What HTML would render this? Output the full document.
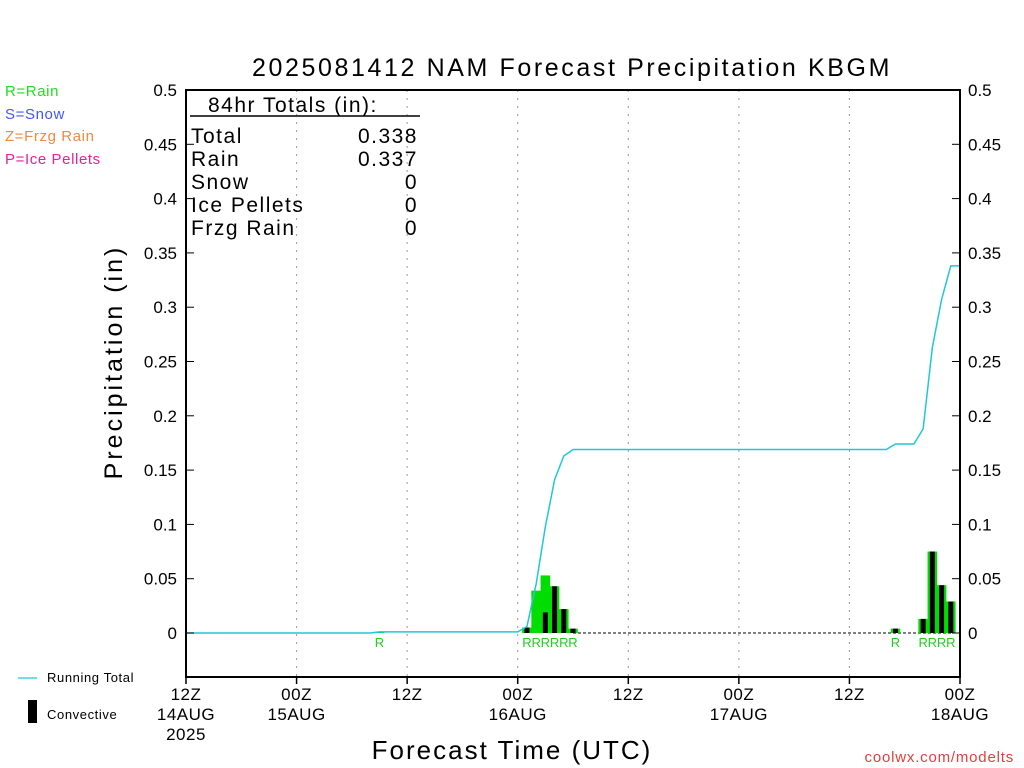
<!DOCTYPE html>
<html><head><meta charset="utf-8"><style>
body{margin:0;background:#fff}
svg{display:block;font-family:"Liberation Sans","DejaVu Sans",sans-serif}
</style></head><body>
<svg id="chart" width="1024" height="768" viewBox="0 0 1024 768">
<text x="572" y="76" font-size="25" letter-spacing="2.6" text-anchor="middle">2025081412 NAM Forecast Precipitation KBGM</text>
<g font-size="15" letter-spacing="0.6">
<text x="5" y="96" fill="#22dd22">R=Rain</text>
<text x="5" y="119" fill="#4455ff">S=Snow</text>
<text x="5" y="141" fill="#f08a40">Z=Frzg Rain</text>
<text x="5" y="164" fill="#e8209a">P=Ice Pellets</text>
</g>
<g id="grid"></g>
<g id="bars"></g>
<g id="line"></g>
<rect x="186" y="90" width="774" height="587" fill="none" stroke="#000" stroke-width="2"/>
<g id="axes"></g>
<g font-size="21" letter-spacing="1.5">
<text x="208" y="112">84hr Totals (in):</text>
<line x1="190" y1="116" x2="420" y2="116" stroke="#000" stroke-width="1.5"/>
<text x="191" y="143">Total</text><text x="418" y="143" text-anchor="end">0.338</text>
<text x="191" y="166">Rain</text><text x="418" y="166" text-anchor="end">0.337</text>
<text x="191" y="189">Snow</text><text x="418" y="189" text-anchor="end">0</text>
<text x="191" y="212">Ice Pellets</text><text x="418" y="212" text-anchor="end">0</text>
<text x="191" y="235">Frzg Rain</text><text x="418" y="235" text-anchor="end">0</text>
</g>
<text transform="translate(122,362) rotate(-90)" font-size="25" letter-spacing="3" text-anchor="middle">Precipitation (in)</text>
<text x="512" y="759" font-size="26" letter-spacing="2" text-anchor="middle">Forecast Time (UTC)</text>
<text x="1014" y="762" font-size="15" fill="#e04040" letter-spacing="0.8" text-anchor="end">coolwx.com/modelts</text>
<g font-size="13" letter-spacing="0.6">
<line x1="18" y1="678" x2="37" y2="678" stroke="#22c8d0" stroke-width="1.3"/>
<text x="47" y="682">Running Total</text>
<rect x="28" y="700" width="9" height="23" fill="#000"/>
<text x="47" y="719">Convective</text>
</g>
</svg>
<script>
const barHours=[21,37,38,39,40,41,42,77,80,81,82,83];
const totalPrecip=[0.001,0.005,0.039,0.053,0.043,0.022,0.004,0.004,0.013,0.075,0.044,0.029];
const convPrecip=[0,0.005,0,0.019,0.043,0.022,0.004,0.004,0.013,0.075,0.044,0.029];
const ptypeLabels=["R","R","R","R","R","R","R","R","R","R","R","R"];
const lineHours=[0,20,21,36,37,38,39,40,41,42,50,76,77,79,80,81,82,83,84];
const lineTotals=[0,0,0.001,0.001,0.006,0.045,0.098,0.141,0.163,0.169,0.169,0.169,0.174,0.174,0.188,0.263,0.307,0.338,0.338];
const yTicks=[0,0.05,0.1,0.15,0.2,0.25,0.3,0.35,0.4,0.45,0.5];
const yTickLabels=["0","0.05","0.1","0.15","0.2","0.25","0.3","0.35","0.4","0.45","0.5"];
const xTickHours=[0,12,24,36,48,60,72,84];
const xTickLabels=[["12Z","14AUG","2025"],["00Z","15AUG"],["12Z"],["00Z","16AUG"],["12Z"],["00Z","17AUG"],["12Z"],["00Z","18AUG"]];
const NS="http://www.w3.org/2000/svg";
const X=h=>186+h*774/84;
const Y=v=>633-v*1086;
function mk(tag,attrs,parent){const e=document.createElementNS(NS,tag);for(const k in attrs)e.setAttribute(k,attrs[k]);parent.appendChild(e);return e;}
const grid=document.getElementById('grid'),axes=document.getElementById('axes'),bars=document.getElementById('bars'),lineG=document.getElementById('line');
xTickHours.forEach((h,i)=>{
  if(i>0&&i<xTickHours.length-1){const g=mk('line',{x1:X(h),x2:X(h),y1:90,y2:677,stroke:'#999','stroke-dasharray':'2,6'},grid);
  
  }
  const t=mk('line',{x1:X(h),x2:X(h),y1:677,y2:684,stroke:'#000','stroke-width':1.5},axes);
  
  
  xTickLabels[i].forEach((s,j)=>{const tx=mk('text',{x:X(h),y:700+j*20,'font-size':17,'letter-spacing':0.5,'text-anchor':'middle'},axes);tx.textContent=s;
  
  });
});
yTicks.forEach((v,i)=>{
  mk('line',{x1:186,x2:194,y1:Y(v),y2:Y(v),stroke:'#000'},axes);
  mk('line',{x1:952,x2:960,y1:Y(v),y2:Y(v),stroke:'#000'},axes);
  const a=mk('text',{x:177,y:Y(v)+6,'font-size':17,'text-anchor':'end'},axes);a.textContent=yTickLabels[i];
  
  
  const b=mk('text',{x:968,y:Y(v)+6,'font-size':17},axes);b.textContent=yTickLabels[i];
  
  
});
const zl=mk('line',{x1:X(42),x2:960,y1:Y(0),y2:Y(0),stroke:'#000','stroke-dasharray':'3,2'},bars);


barHours.forEach((h,i)=>{
  const c=X(h);
  const r=mk('rect',{x:c-4.8,y:Y(totalPrecip[i]),width:9.6,height:totalPrecip[i]*1086,fill:'#00dd00'},bars);
  
  
  if(convPrecip[i]>0){const k=mk('rect',{x:c-2.5,y:Y(convPrecip[i]),width:5,height:convPrecip[i]*1086,fill:'#000'},bars);
  
  }
  const t=mk('text',{x:c,y:647,'font-size':13,fill:'#22cc22','text-anchor':'middle'},bars);t.textContent=ptypeLabels[i];
  
  
});
const pts=lineHours.map((h,i)=>X(h)+','+Y(lineTotals[i])).join(' ');
const pl=mk('polyline',{points:pts,fill:'none',stroke:'#22c8d0','stroke-width':1.5},lineG);


</script>
</body></html>
